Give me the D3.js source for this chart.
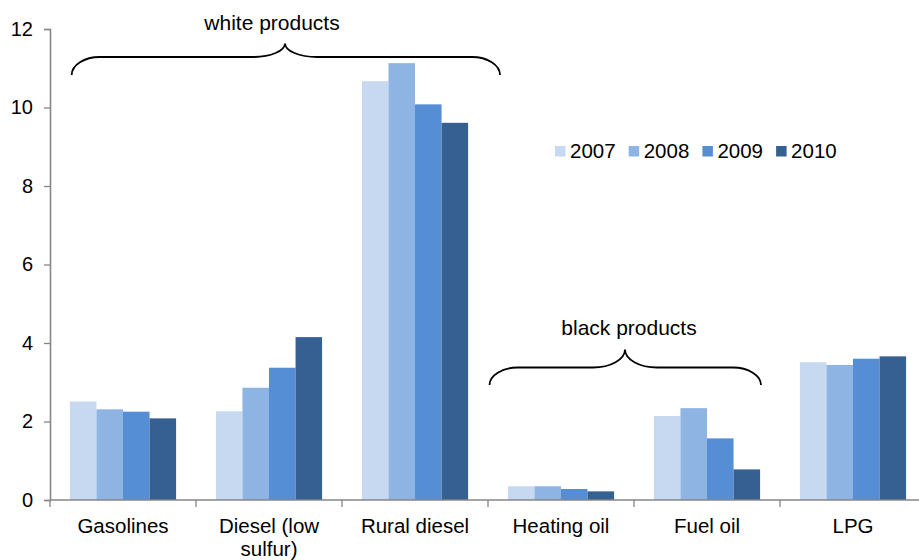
<!DOCTYPE html>
<html>
<head>
<meta charset="utf-8">
<script src="https://cdn.jsdelivr.net/npm/d3@7"></script>
<style>
  html, body { margin: 0; padding: 0; background: #fff; }
  svg { display: block; font-family: "Liberation Sans", Arial, sans-serif; }
</style>
</head>
<body>
<svg id="chart" width="919" height="560"></svg>
<script>
// Product categories (label line breaks marked with \n)
const categories = ["Gasolines", "Diesel (low\nsulfur)", "Rural diesel", "Heating oil", "Fuel oil", "LPG"];
const years = ["2007", "2008", "2009", "2010"];

// Values per year, in category order
const values2007 = [2.51, 2.26, 10.67, 0.35, 2.14, 3.51];
const values2008 = [2.31, 2.86, 11.13, 0.35, 2.34, 3.44];
const values2009 = [2.25, 3.37, 10.08, 0.28, 1.57, 3.60];
const values2010 = [2.08, 4.15, 9.61, 0.22, 0.78, 3.66];
const seriesValues = [values2007, values2008, values2009, values2010];

const yTicks = [0, 2, 4, 6, 8, 10, 12];
const yMax = 12;

const colors = ["#C6D9F1", "#8EB4E3", "#558ED5", "#376092"];

// Group annotations (braces with captions)
const groupLabels = ["white products", "black products"];

const svg = d3.select("#chart");
const plotLeft = 50, plotRight = 926, plotTop = 29, plotBottom = 500;

const x = d3.scaleBand().domain(categories).range([plotLeft, plotRight]).padding(0);
const bw = x.bandwidth();
const x1 = d3.scaleBand().domain(years).range([bw * 0.75 / 5.5, bw * 4.75 / 5.5]).padding(0);
const y = d3.scaleLinear().domain([0, yMax]).range([plotBottom, plotTop]);
const color = d3.scaleOrdinal().domain(years).range(colors);

// Bars
const rows = categories.map((c, i) => ({ cat: c, vals: years.map((yr, j) => ({ year: yr, v: seriesValues[j][i] })) }));
const groups = svg.append("g").selectAll("g").data(rows).join("g")
  .attr("transform", d => `translate(${x(d.cat)},0)`);
groups.selectAll("rect").data(d => d.vals).join("rect")
  .attr("x", d => x1(d.year))
  .attr("width", x1.bandwidth())
  .attr("y", d => y(d.v))
  .attr("height", d => y(0) - y(d.v))
  .attr("fill", d => color(d.year));

// Y axis
const yAxis = svg.append("g")
  .attr("transform", `translate(${plotLeft},0)`)
  .call(d3.axisLeft(y).tickValues(yTicks).tickFormat(d3.format("d")).tickSize(6).tickPadding(11));
yAxis.select(".domain").attr("stroke", "#868686").attr("stroke-width", 1.6);
yAxis.selectAll(".tick line").attr("stroke", "#868686").attr("stroke-width", 1.3);
yAxis.selectAll(".tick text").attr("font-size", 20).attr("fill", "#000")
  .attr("font-family", "'Liberation Sans', Arial, sans-serif");

// X axis: category separators
const xAxisG = svg.append("g").attr("transform", `translate(0,${plotBottom})`);
xAxisG.append("line").attr("x1", plotLeft).attr("x2", plotRight).attr("y1", 0).attr("y2", 0)
  .attr("stroke", "#868686").attr("stroke-width", 1.6);
const seps = categories.map(c => x(c));
xAxisG.selectAll("line.sep").data(seps).join("line").attr("class", "sep")
  .attr("x1", d => d).attr("x2", d => d).attr("y1", 0).attr("y2", 7)
  .attr("stroke", "#868686").attr("stroke-width", 1.3);

// Category labels
const catText = svg.append("g").selectAll("text").data(categories).join("text")
  .attr("x", d => x(d) + bw / 2)
  .attr("y", 533)
  .attr("text-anchor", "middle")
  .attr("font-size", 20.5)
  .attr("fill", "#000");
catText.each(function(d) {
  const lines = d.split("\n");
  d3.select(this).selectAll("tspan").data(lines).join("tspan")
    .attr("x", x(d) + bw / 2)
    .attr("dy", (l, i) => i === 0 ? 0 : 22.5)
    .text(l => l);
});

// Legend
const legend = svg.append("g").attr("transform", "translate(555,146)");
const li = legend.selectAll("g").data(years).join("g")
  .attr("transform", (d, i) => `translate(${i * 73.7},0)`);
li.append("rect").attr("width", 10.5).attr("height", 10.5).attr("fill", d => color(d));
li.append("text").attr("x", 15).attr("y", 12.3).attr("font-size", 20.5).attr("fill", "#000").text(d => d);

// Curly brace path: rounded quarter curves at both ends and at the centre tip
function bracePath(x0, x2, cx, yEnd, yFlat, yTip) {
  const ex = 28, tx = 32, k = 0.55;
  const ey = yEnd - yFlat, ty = yFlat - yTip;
  const p = d3.path();
  p.moveTo(x0, yEnd);
  p.bezierCurveTo(x0, yEnd - k * ey, x0 + ex - k * ex, yFlat, x0 + ex, yFlat);
  p.lineTo(cx - tx, yFlat);
  p.bezierCurveTo(cx - tx + k * tx, yFlat, cx, yTip + k * ty, cx, yTip);
  p.bezierCurveTo(cx, yTip + k * ty, cx + tx - k * tx, yFlat, cx + tx, yFlat);
  p.lineTo(x2 - ex, yFlat);
  p.bezierCurveTo(x2 - ex + k * ex, yFlat, x2, yEnd - k * ey, x2, yEnd);
  return p.toString();
}

const braces = [
  { label: groupLabels[0], x0: 71.7, x2: 500, cx: 285, yEnd: 75, yFlat: 57, yTip: 43.5, tx: 272, ty: 30 },
  { label: groupLabels[1], x0: 489.5, x2: 761, cx: 625, yEnd: 385, yFlat: 367.5, yTip: 349.5, tx: 629, ty: 335 }
];
const bg = svg.append("g");
bg.selectAll("path").data(braces).join("path")
  .attr("d", d => bracePath(d.x0, d.x2, d.cx, d.yEnd, d.yFlat, d.yTip))
  .attr("fill", "none").attr("stroke", "#000").attr("stroke-width", 1.8);
bg.selectAll("text").data(braces).join("text")
  .attr("x", d => d.tx).attr("y", d => d.ty)
  .attr("text-anchor", "middle").attr("font-size", 21).attr("fill", "#000")
  .text(d => d.label);
</script>
</body>
</html>
